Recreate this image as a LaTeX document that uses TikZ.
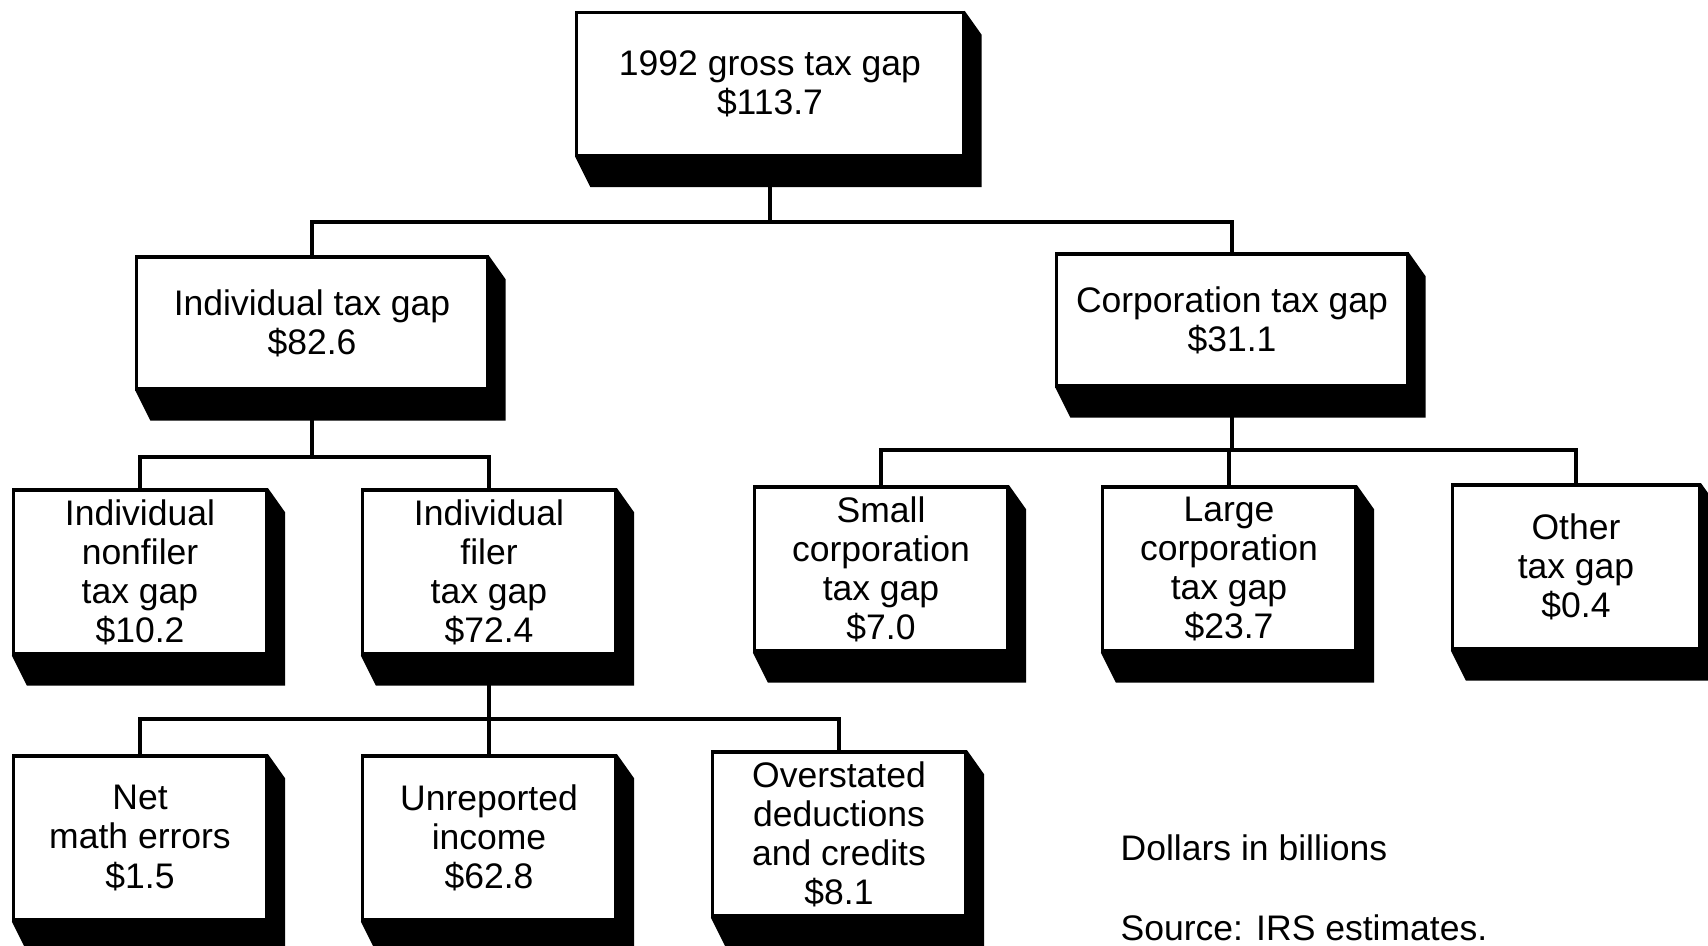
\documentclass[tikz,border=0pt]{standalone}
\usepackage{fontspec}
\setmainfont{Liberation Sans}
\usetikzlibrary{positioning,calc}

\tikzset{
  taxbox/.style={draw, line width=0.9pt, fill=white, align=center, inner sep=0pt,
    minimum width=2.53cm, minimum height=1.64cm, font=\fontsize{10.1}{11.1}\selectfont},
  upper/.style={minimum width=3.5cm, minimum height=1.32cm},
  link/.style={line width=0.9pt},
  remark/.style={anchor=west, inner sep=0pt, font=\fontsize{10.1}{11.1}\selectfont},
}

\begin{document}
\begin{tikzpicture}[x=0.01cm, y=-0.01cm]
\useasboundingbox (0,0) rectangle (1708,946);

% top of the tree
\node[taxbox, minimum width=3.86cm, minimum height=1.43cm] (gross) at (770,84) {1992 gross tax gap\\\$113.7};
\node[taxbox, upper] (indiv) at (312,323) {Individual tax gap\\\$82.6};
\node[taxbox, upper] (corp) at (1232,320) {Corporation tax gap\\\$31.1};

% second level
\node[taxbox] (nonfiler) at (140,572) {Individual\\nonfiler\\tax gap\\\$10.2};
\node[taxbox] (filer) at (489,572) {Individual\\filer\\tax gap\\\$72.4};
\node[taxbox] (smallcorp) at (881,569) {Small\\corporation\\tax gap\\\$7.0};
\node[taxbox] (largecorp) at (1229,569) {Large\\corporation\\tax gap\\\$23.7};
\node[taxbox, minimum width=2.47cm] (other) at (1576,567) {Other\\tax gap\\\$0.4};

% third level
\node[taxbox] (matherr) at (140,838) {Net\\math errors\\\$1.5};
\node[taxbox] (unrep) at (489,838) {Unreported\\income\\\$62.8};
\node[taxbox] (overst) at (839,834) {Overstated\\deductions\\and credits\\\$8.1};

\node[remark] (units) at (1120,848) {Dollars in billions};
\node[remark] (source) at (1120,928) {Source: IRS estimates.};

% connectors
\coordinate (busA) at (770,222);
\coordinate (busB) at (312,457);
\coordinate (busC) at (1232,450);
\coordinate (busD) at (489,719);
\draw[link] (gross.south) -- (busA);
\draw[link] (indiv.north) |- (busA) -| (corp.north);
\draw[link] (indiv.south) -- (busB);
\draw[link] (nonfiler.north) |- (busB) -| (filer.north);
\draw[link] (corp.south) -- (busC);
\draw[link] (smallcorp.north) |- (busC) -| (other.north);
\draw[link] (largecorp.north) -- (largecorp.north |- busC);
\draw[link] (filer.south) -- (busD);
\draw[link] (matherr.north) |- (busD) -| (overst.north);
\draw[link] (unrep.north) -- (unrep.north |- busD);

% shadows
\foreach \n in {gross,indiv,corp,nonfiler,filer,smallcorp,largecorp,other,matherr,unrep,overst}
  \fill (\n.north east) -- ([shift={(17,24)}]\n.north east) -- ([shift={(17,30)}]\n.south east)
    -- ([shift={(15,30)}]\n.south west) -- (\n.south west) -- (\n.south east) -- cycle;
\end{tikzpicture}
\end{document}
